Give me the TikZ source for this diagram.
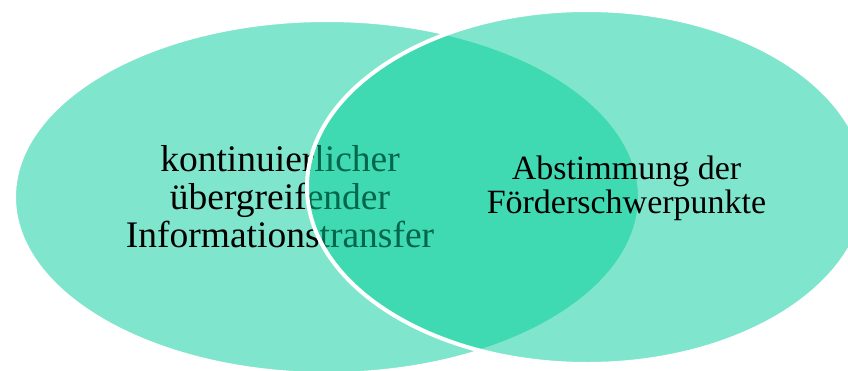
\documentclass[tikz,border=0pt]{standalone}
\usepackage{fontspec}
\setmainfont{Liberation Serif}
\definecolor{venn}{RGB}{0,204,153}
\tikzset{
  vennfill/.style={fill=venn, fill opacity=0.5, draw=white, line width=4pt},
  lefttext/.style={align=center, inner sep=0pt, font=\fontsize{37.5}{38}\selectfont, anchor=base},
  righttext/.style={align=center, inner sep=0pt, font=\fontsize{34}{33.5}\selectfont, anchor=base}
}
\begin{document}
\begin{tikzpicture}[x=1pt,y=-1pt]
\useasboundingbox (0,0) rectangle (848,370);
\clip (0,0) rectangle (848,370);
\path[vennfill] (327,197) ellipse [x radius=313, y radius=177];
\node[lefttext] (lt) at (280,247) {kontinuierlicher\\übergreifender\\Informationstransfer};
\path[vennfill] (587,187) ellipse [x radius=280, y radius=177];
\node[righttext] (rt) at (626.5,213) {Abstimmung der\\Förderschwerpunkte};
\end{tikzpicture}
\end{document}
